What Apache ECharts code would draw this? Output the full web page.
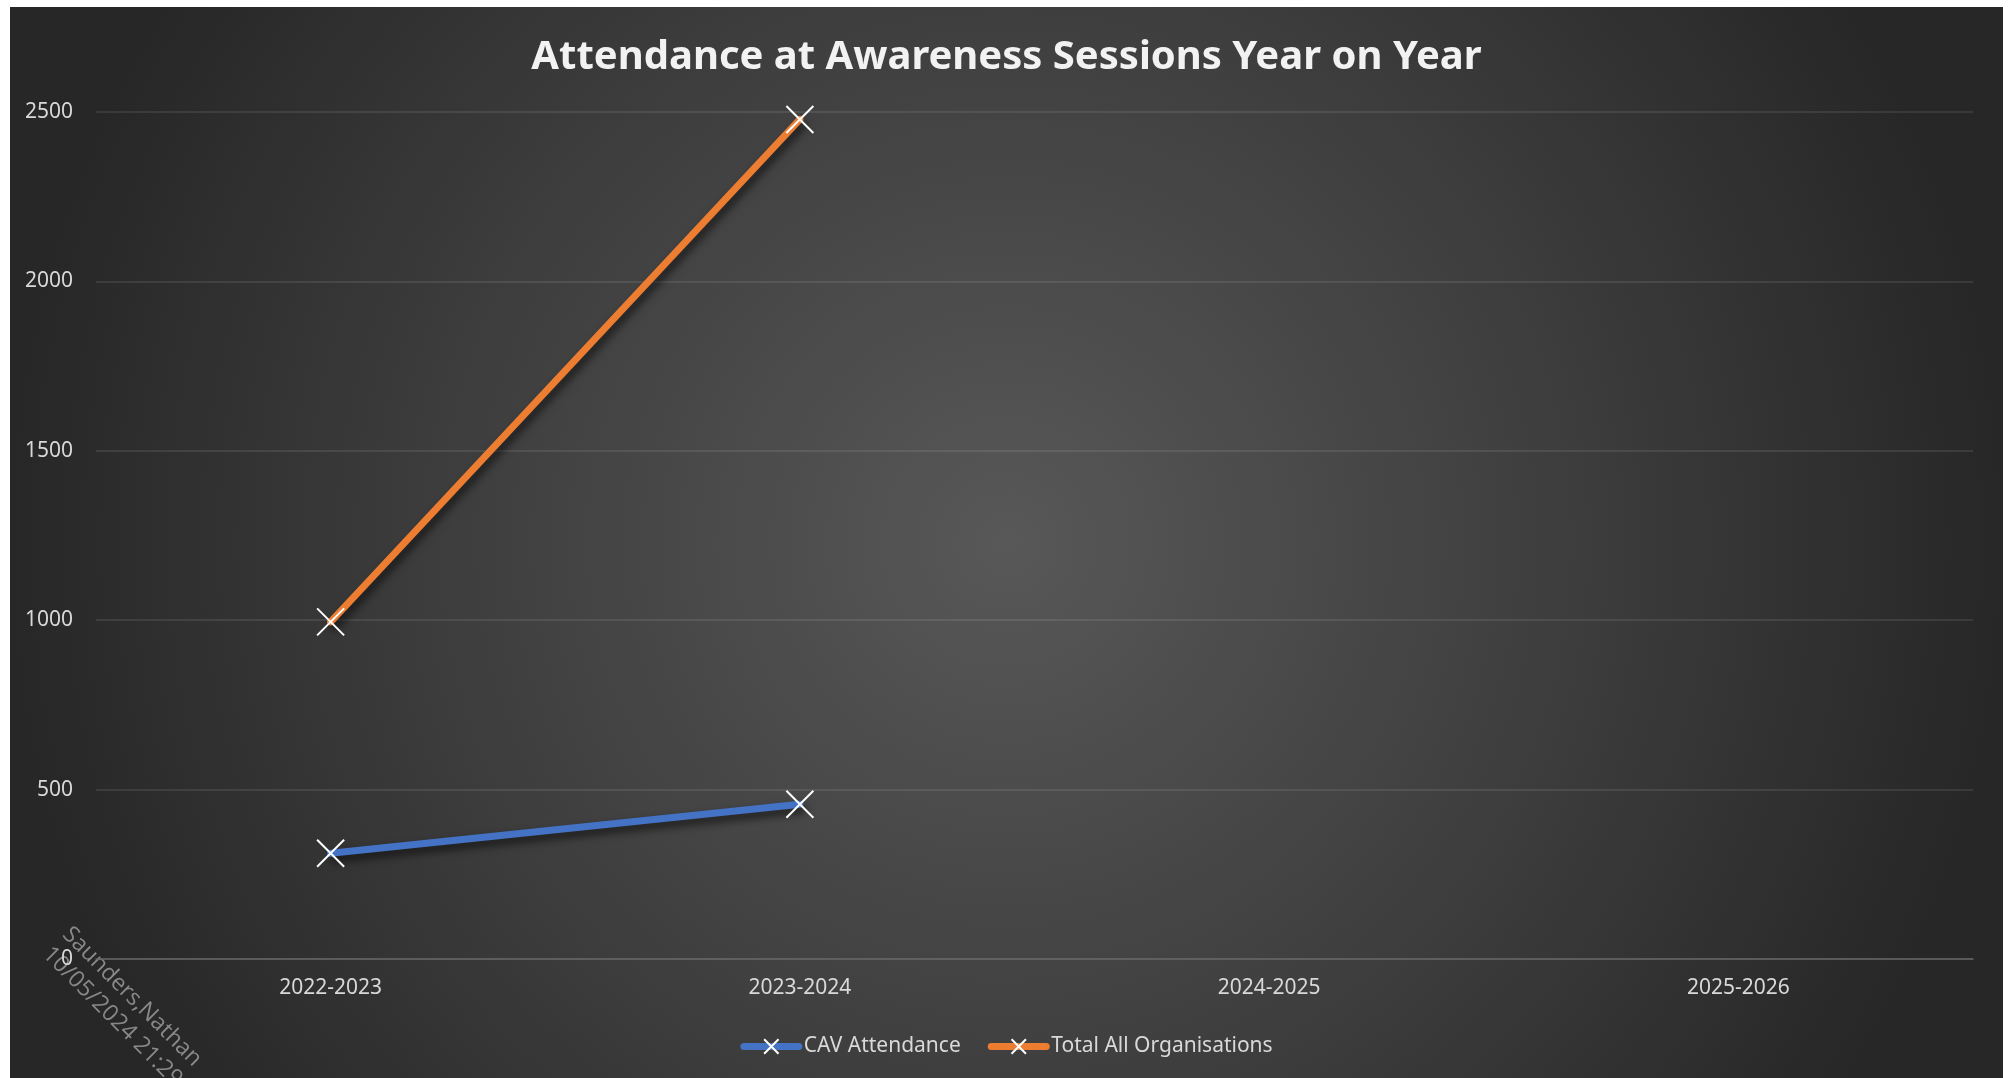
<!DOCTYPE html>
<html>
<head>
<meta charset="utf-8">
<script src="https://cdn.jsdelivr.net/npm/echarts@6/dist/echarts.min.js"></script>
<style>
  html, body { margin: 0; padding: 0; background: #ffffff; }
  #chart { position: absolute; left: 10px; top: 7px; width: 1993px; height: 1071px; }
</style>
</head>
<body>
<div id="chart"></div>
<script>
const titleText = 'Attendance at Awareness Sessions Year on Year';
const categories = ['2022-2023', '2023-2024', '2024-2025', '2025-2026'];
const cavAttendance = [312, 457, null, null];
const totalAllOrganisations = [995, 2478, null, null];
const seriesNames = ['CAV Attendance', 'Total All Organisations'];
const yTicks = { min: 0, max: 2500, interval: 500 };
const watermarkText = 'Saunders,Nathan\n10/05/2024 21:29';

const FONT = '"Noto Sans", "Open Sans", sans-serif';
const LABEL = '#d9d9d9';
const W = 1993, H = 1071;

const xSymbol = 'path://M0,0L10,10M10,0L0,10';

function lineSeries(name, data, color) {
  return {
    name: name,
    type: 'line',
    data: data,
    symbol: xSymbol,
    symbolSize: 27,
    showAllSymbol: true,
    connectNulls: false,
    itemStyle: { color: 'rgba(0,0,0,0)', borderColor: '#ffffff', borderWidth: 2 },
    lineStyle: {
      color: color, width: 7, cap: 'round',
      shadowColor: 'rgba(0,0,0,0.65)', shadowBlur: 8, shadowOffsetX: 3, shadowOffsetY: 5
    },
    emphasis: { disabled: true },
    z: 3
  };
}

const chart = echarts.init(document.getElementById('chart'), null, { renderer: 'canvas' });
chart.setOption({
  backgroundColor: '#272727',
  animation: false,
  title: {
    text: titleText,
    left: 'center',
    top: 26,
    textStyle: { color: '#f2f2f2', fontFamily: FONT, fontWeight: 'bold', fontSize: 40 }
  },
  legend: {
    data: seriesNames.map(n => ({ name: n })),
    bottom: 16,
    left: 'center',
    itemWidth: 55,
    itemHeight: 18,
    itemGap: 27,
    lineStyle: { width: 7, cap: 'round', shadowBlur: 0, shadowOffsetX: 0, shadowOffsetY: 0 },
    textStyle: { color: LABEL, fontFamily: FONT, fontSize: 21 }
  },
  grid: { left: 86, right: 30, top: 105, bottom: 119, containLabel: false },
  xAxis: {
    type: 'category',
    data: categories,
    boundaryGap: true,
    axisLine: { show: true, lineStyle: { color: '#646464', width: 1.5 } },
    axisTick: { show: false },
    axisLabel: { color: LABEL, fontFamily: FONT, fontSize: 21, margin: 19 },
    splitLine: { show: false }
  },
  yAxis: {
    type: 'value',
    min: yTicks.min,
    max: yTicks.max,
    interval: yTicks.interval,
    axisLine: { show: false },
    axisTick: { show: false },
    axisLabel: { color: LABEL, fontFamily: FONT, fontSize: 21, margin: 23, formatter: v => String(v) },
    splitLine: { show: true, lineStyle: { color: 'rgba(255,255,255,0.12)', width: 1.5 } }
  },
  graphic: [
    {
      type: 'rect',
      z: -100,
      silent: true,
      shape: { x: 0, y: 0, width: W, height: H },
      style: {
        fill: {
          type: 'radial', x: 0.5, y: 0.5, r: 0.93,
          colorStops: [
            { offset: 0, color: '#585858' },
            { offset: 0.55, color: '#3e3e3e' },
            { offset: 1, color: '#272727' }
          ]
        }
      }
    },
    {
      type: 'text',
      z: -50,
      silent: true,
      x: 66,
      y: 914,
      rotation: -Math.PI / 4,
      style: {
        text: watermarkText,
        fill: 'rgba(170,170,170,0.75)',
        font: '23px "Open Sans", "Noto Sans", sans-serif',
        lineHeight: 28,
        align: 'left',
        verticalAlign: 'top'
      }
    }
  ],
  series: [
    lineSeries(seriesNames[0], cavAttendance, '#4472C4'),
    lineSeries(seriesNames[1], totalAllOrganisations, '#ED7D31')
  ]
});
</script>
</body>
</html>
